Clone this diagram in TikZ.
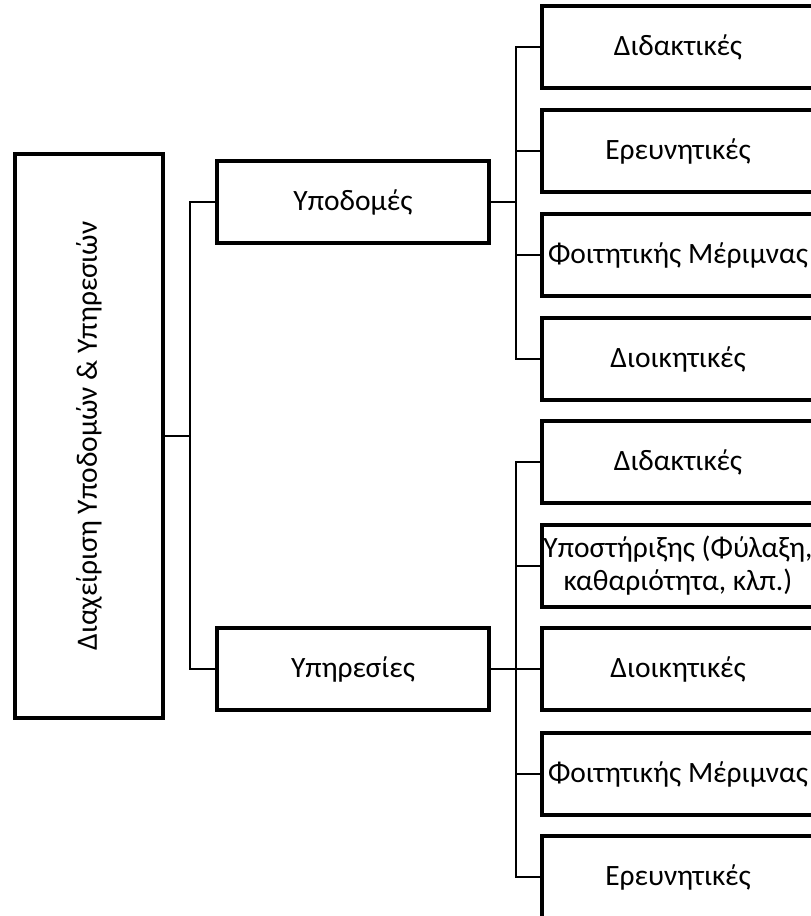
\documentclass[tikz,border=0pt]{standalone}
\usepackage{fontspec}
\setmainfont{Carlito}
\begin{document}
\begin{tikzpicture}[x=1pt,y=-1pt]
\tikzstyle{box}=[draw, line width=3.8pt, inner sep=0pt, minimum width=272pt, minimum height=82pt, align=center, font=\fontsize{29.5}{33}\selectfont]
\tikzstyle{link}=[line width=2pt]
\useasboundingbox (0,0) rectangle (811,916);

\node[box, rotate=90, minimum width=564pt, minimum height=148pt] (M) at (89,436) {Διαχείριση Υποδομών \& Υπηρεσιών};

\node[box] (A1) at (353,202) {Υποδομές};
\node[box] (A2) at (353,669) {Υπηρεσίες};

\node[box] (B1) at (678,47) {Διδακτικές};
\node[box] (B2) at (678,151) {Ερευνητικές};
\node[box] (B3) at (678,255) {Φοιτητικής Μέριμνας};
\node[box] (B4) at (678,359) {Διοικητικές};

\node[box] (C1) at (678,462) {Διδακτικές};
\node[box] (C2) at (678,566) {Υποστήριξης (Φύλαξη,\\καθαριότητα, κλπ.)};
\node[box] (C3) at (678,669) {Διοικητικές};
\node[box] (C4) at (678,774) {Φοιτητικής Μέριμνας};
\node[box] (C5) at (678,877) {Ερευνητικές};

\coordinate (J0) at (190,436);
\coordinate (J1) at (516,202);
\coordinate (J2) at (516,669);

\draw[link] (M.south) -- (J0);
\draw[link] (J0) |- (A1.west);
\draw[link] (J0) |- (A2.west);

\draw[link] (A1.east) -- (J1);
\foreach \i in {1,...,4}
  \draw[link] (J1) |- (B\i.west);

\draw[link] (A2.east) -- (J2);
\foreach \i in {1,...,5}
  \draw[link] (J2) |- (C\i.west);
\end{tikzpicture}
\end{document}
